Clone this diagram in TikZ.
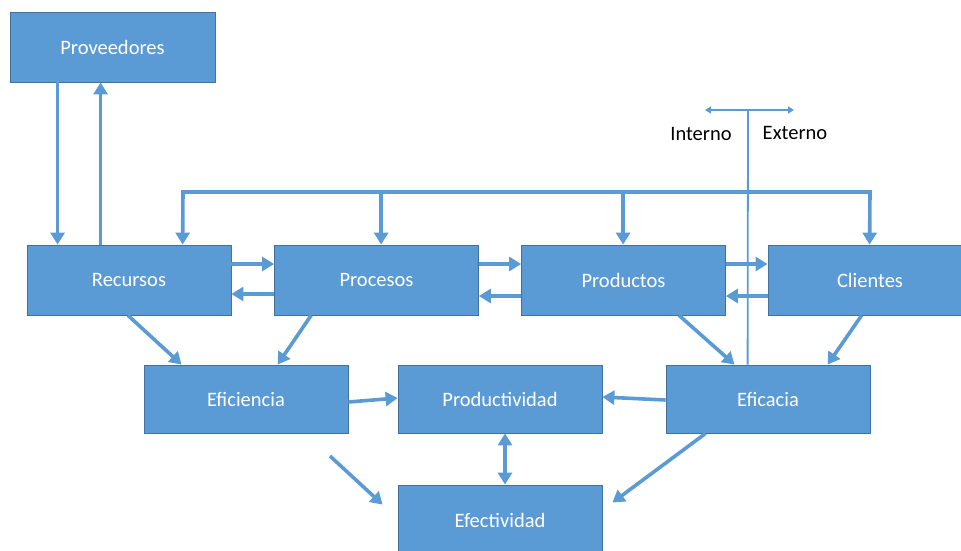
\documentclass[tikz,border=0pt]{standalone}
\usepackage{fontspec}
\setmainfont{Carlito}
\usetikzlibrary{arrows.meta}
\definecolor{boxfill}{RGB}{91,155,213}
\definecolor{boxedge}{RGB}{65,113,156}
\definecolor{arrowc}{RGB}{91,155,213}
\tikzset{
  box/.style={draw=boxedge, fill=boxfill, line width=0.8pt, minimum width=204pt,
    minimum height=70pt, inner sep=0pt, text=white,
    font=\fontsize{20.5}{24}\selectfont},
  arr/.style={draw=arrowc, line width=3.6pt, -{Triangle[length=12pt,width=14pt]}},
  dblarr/.style={draw=arrowc, line width=3.6pt, {Triangle[length=12pt,width=14pt]}-{Triangle[length=12pt,width=14pt]}},
  busline/.style={draw=arrowc, line width=3.4pt, line cap=rect},
  thinline/.style={draw=arrowc, line width=1.8pt},
  thinarr/.style={draw=arrowc, line width=1.8pt, {Triangle[length=6pt,width=7pt]}-{Triangle[length=6pt,width=7pt]}},
  lbl/.style={text=black, inner sep=0pt, font=\fontsize{20.5}{24}\selectfont}
}
\begin{document}
\begin{tikzpicture}[x=1pt,y=-1pt]
\useasboundingbox (0,0) rectangle (961,550);
% boxes
\node[box, minimum width=205pt] (prov) at (112.5,47) {Proveedores};
\node[box] (rec)  at (129,280) {Recursos};
\node[box] (proc) at (376.5,280) {Procesos};
\node[box] (prod) at (623.5,280) {Productos};
\node[box] (cli)  at (870,280) {Clientes};
\node[box, minimum height=68pt] (efi)   at (246,399) {Eficiencia};
\node[box, minimum height=68pt] (prodv) at (500,399) {Productividad};
\node[box, minimum height=68pt] (efc)   at (768,399) {Eficacia};
\node[box] (efe) at (500,520) {Efectividad};

% supplier loop
\draw[arr] ([xshift=48pt]prov.south west) -- ([xshift=31pt]rec.north west);
\draw[arr] ([xshift=74pt]rec.north west) -- ([xshift=91pt]prov.south west);

% distribution bus along the top
\coordinate (bL) at (183,192);
\coordinate (bR) at (870,192);
\draw[busline] (bL) -- (bR);
\draw[arr] (bL) -- ([xshift=156pt]rec.north west);
\draw[arr] (bL -| proc.north west) ++(107,0) -- ([xshift=107pt]proc.north west);
\draw[arr] (bL -| prod.north west) ++(102,0) -- ([xshift=102pt]prod.north west);
\draw[arr] (bR) -- ([xshift=102pt]cli.north west);

% chain forward and back
\draw[arr] ([yshift=16pt]rec.east)  -- ([yshift=16pt]proc.west);
\draw[arr] ([yshift=-14pt]proc.west) -- ([yshift=-14pt]rec.east);
\draw[arr] ([yshift=16pt]proc.east) -- ([yshift=16pt]prod.west);
\draw[arr] ([yshift=-16pt]prod.west) -- ([yshift=-16pt]proc.east);
\draw[arr] ([yshift=16pt]prod.east) -- ([yshift=16pt]cli.west);
\draw[arr] ([yshift=-16pt]cli.west) -- ([yshift=-16pt]prod.east);

% into Eficiencia and Eficacia
\draw[arr] ([xshift=-1pt]rec.south) -- ([xshift=38pt]efi.north west);
\draw[arr] ([xshift=37pt]proc.south west) -- ([xshift=134pt]efi.north west);
\draw[arr] ([xshift=158pt]prod.south west) -- ([xshift=69pt]efc.north west);
\draw[arr] ([xshift=94pt]cli.south west) -- ([xshift=162pt]efc.north west);

% into Productividad
\draw[arr] ([yshift=-3pt]efi.east) -- ([yshift=1pt]prodv.west);
\draw[arr] ([yshift=-1pt]efc.west) -- ([yshift=2pt]prodv.east);

% Productividad <-> Efectividad
\draw[dblarr] ([xshift=5pt]prodv.south) -- ([xshift=5pt]efe.north);

% into Efectividad
\coordinate (fa) at (330,456);
\draw[arr] (fa) -- ([xshift=-15pt,yshift=-20pt]efe.north west);
\draw[arr] ([xshift=40pt]efc.south west) -- ([xshift=10pt,yshift=-18pt]efe.north east);

% internal / external divide
\coordinate (ie) at (748,110);
\draw[thinline] ([xshift=82pt]efc.north west) -- (ie);
\coordinate (ieL) at (705,110);
\coordinate (ieR) at (794,110);
\draw[thinarr] (ieL) -- (ieR);
\node[lbl] (int) at (701,134) {Interno};
\node[lbl] (ext) at (795,133) {Externo};
\end{tikzpicture}
\end{document}
